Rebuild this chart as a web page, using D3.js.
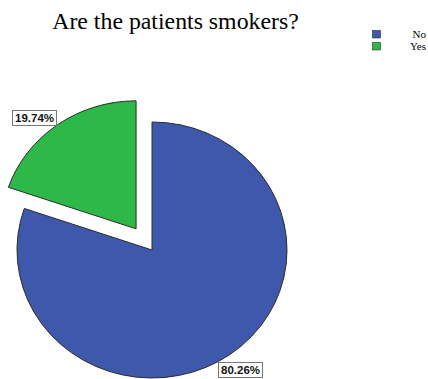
<!DOCTYPE html>
<html>
<head>
<meta charset="utf-8">
<script src="https://cdn.jsdelivr.net/npm/d3@7"></script>
<style>
  html, body { margin: 0; padding: 0; background: #fff; }
  svg { display: block; }
</style>
</head>
<body>
<svg id="chart" width="428" height="379"></svg>
<script>
// Smoking status of patients
const categories = ["No", "Yes"];
const percents = [80.26, 19.74];
const colors = ["#3E58AC", "#2EB848"];
const explodedCategory = "Yes";

const W = 428, H = 379;
const svg = d3.select("#chart");

// Title
svg.append("text")
  .attr("x", 175.5).attr("y", 29)
  .attr("text-anchor", "middle")
  .attr("font-family", "'Liberation Serif', 'Times New Roman', serif")
  .attr("font-size", 23.8)
  .attr("fill", "#000")
  .text("Are the patients smokers?");

// Legend
const legend = svg.append("g");
categories.forEach((c, i) => {
  const y = 30.5 + i * 12;
  legend.append("rect")
    .attr("x", 372.5).attr("y", y)
    .attr("width", 8).attr("height", 7.5)
    .attr("fill", colors[i])
    .attr("stroke", "#333").attr("stroke-width", 0.6);
  legend.append("text")
    .attr("x", 426).attr("y", y + 7.5)
    .attr("text-anchor", "end")
    .attr("font-family", "'Liberation Serif', 'Times New Roman', serif")
    .attr("font-size", 11)
    .attr("fill", "#000")
    .text(c);
});

// Pie (slightly wider than tall)
const cx = 152, cy = 250, ry = 128, rx = 135;
const sx = rx / ry;
const pie = d3.pie().sort(null).value(d => d.value);
const arcs = pie(categories.map((c, i) => ({ cat: c, value: percents[i], color: colors[i] })));
const arc = d3.arc().innerRadius(0).outerRadius(ry);

const explodeDist = 26;
const g = svg.append("g");
arcs.forEach(a => {
  let dx = 0, dy = 0;
  if (a.data.cat === explodedCategory) {
    const mid = (a.startAngle + a.endAngle) / 2;
    dx = Math.sin(mid) * explodeDist * sx;
    dy = -Math.cos(mid) * explodeDist;
  }
  g.append("path")
    .attr("d", arc(a))
    .attr("transform", `translate(${cx + dx},${cy + dy}) scale(${sx},1)`)
    .attr("fill", a.data.color)
    .attr("stroke", "#2a2a2a")
    .attr("stroke-width", 1)
    .attr("vector-effect", "non-scaling-stroke")
    .attr("stroke-linejoin", "round");
});

// Value labels
const labelPos = { "Yes": [12, 110], "No": [218, 362] };
arcs.forEach(a => {
  const [lx, ly] = labelPos[a.data.cat];
  const lg = svg.append("g").attr("transform", `translate(${lx},${ly})`);
  const t = lg.append("text")
    .attr("x", 3).attr("y", 12)
    .attr("font-family", "'Liberation Sans', Arial, sans-serif")
    .attr("font-size", 11.5)
    .attr("font-weight", "bold")
    .attr("fill", "#111")
    .text(a.data.value.toFixed(2) + "%");
  const bb = t.node().getBBox();
  lg.insert("rect", "text")
    .attr("x", 0.5).attr("y", 0.5)
    .attr("width", bb.width + 5).attr("height", 15)
    .attr("fill", "#fff")
    .attr("stroke", "#777").attr("stroke-width", 1);
});
</script>
</body>
</html>
